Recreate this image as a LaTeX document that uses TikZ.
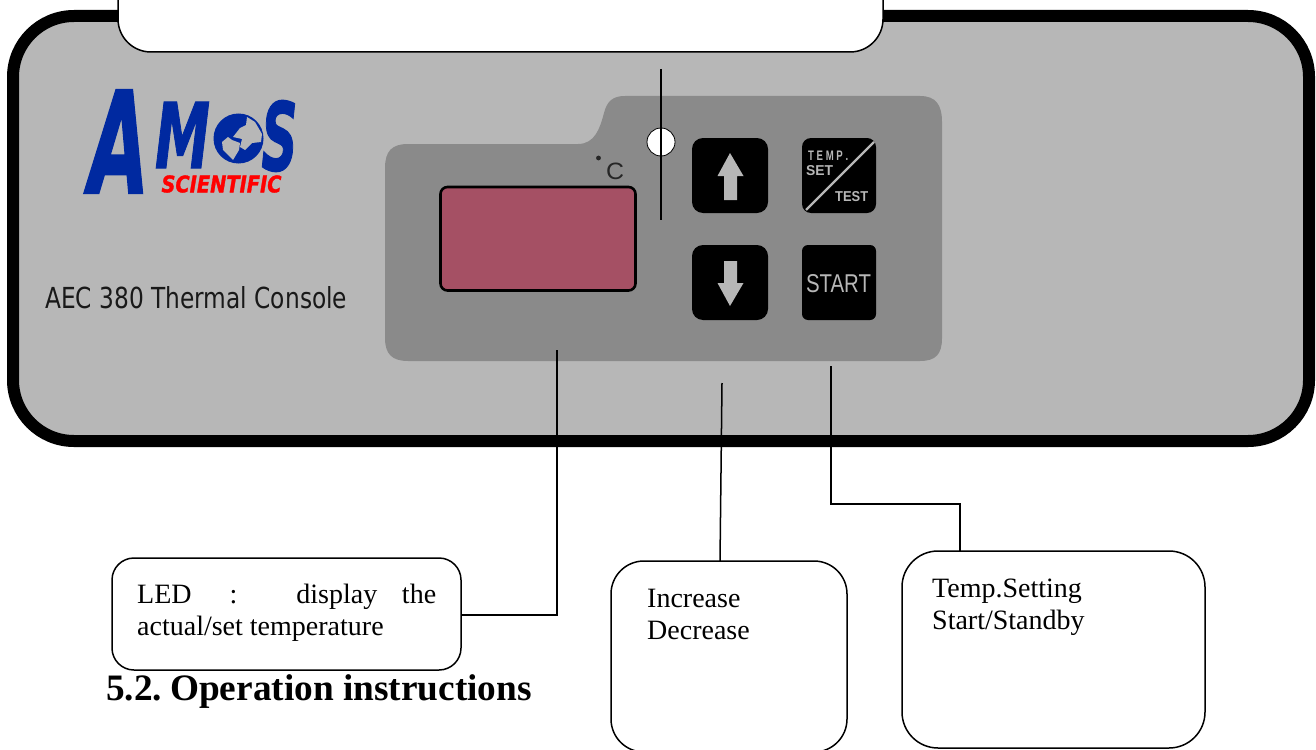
\documentclass[tikz,border=0pt]{standalone}
\usepackage{fontspec}
\setmainfont{Liberation Serif}
\newfontfamily\panelfont{DejaVu Sans}
\newfontfamily\keyfont{Liberation Sans}
\newfontfamily\logofont[BoldItalicFeatures={FakeBold=1.5}]{DejaVu Sans}
\usetikzlibrary{calc}
\definecolor{panelgray}{HTML}{B7B7B7}
\definecolor{darkgray}{HTML}{8A8A8A}
\definecolor{ledred}{HTML}{A55064}
\definecolor{logoblue}{HTML}{0029A0}
\tikzset{
  x=1pt,y=-1pt,
  callout/.style={draw=black,line width=1.5pt,fill=white},
  lead/.style={draw=black,line width=1.5pt},
  keybox/.style={fill=black,rounded corners=11pt},
  keymark/.style={fill=panelgray,draw=none},
  calltext/.style={font=\fontsize{28}{32}\selectfont,anchor=north west,inner sep=0pt,align=left},
  keytext/.style={font=\keyfont\bfseries,text=panelgray,inner sep=0pt},
  logotext/.style={text=logoblue,inner sep=0pt,font=\logofont\bfseries\itshape}
}
\begin{document}
\begin{tikzpicture}
\useasboundingbox (0,0) rectangle (1316,749);
\clip (0,0) rectangle (1316,749);
% console
\draw[line width=12pt,fill=panelgray,rounded corners=61pt] (13,16) rectangle (1309,441);
% dark panel
\fill[darkgray] (385,168) .. controls (385,151) and (392,144) .. (408,144)
  -- (578,144) .. controls (595,144) and (600,128) .. (604,113)
  .. controls (607,101) and (613,96) .. (625,96)
  -- (920,96) .. controls (936,96) and (942,105) .. (942,122)
  -- (942,338) .. controls (942,354) and (936,361) .. (920,361)
  -- (408,361) .. controls (392,361) and (385,354) .. (385,338) -- cycle;
% display
\draw[fill=ledred,line width=2.6pt,rounded corners=7pt] (440.5,187) rectangle (635.5,290.5);
\fill[black!85] (598.5,158) circle (2.4pt);
\node[font=\keyfont,text=black!85,inner sep=0pt] (unitC) at (615,171) {\resizebox{18pt}{16.5pt}{C}};
% indicator
\node[circle,draw=black,line width=0.8pt,fill=white,minimum size=28pt,inner sep=0pt] (lamp) at (661,142) {};
% keys
\fill[keybox] (692,138) rectangle (768,213);
\fill[keybox] (692,245) rectangle (768,320);
\fill[keybox,rounded corners=9pt] (802,138) rectangle (876,213);
\fill[keybox,rounded corners=6pt] (802,245) rectangle (876,320);
\fill[keymark] (730,153) -- (743.5,176) -- (737,176) -- (737,200) -- (724,200) -- (724,176) -- (717.5,176) -- cycle;
\fill[keymark] (730,306) -- (743.5,283) -- (737,283) -- (737,261) -- (724,261) -- (724,283) -- (717.5,283) -- cycle;
\draw[panelgray,line width=2.2pt] (806,210) -- (874,142);
\node[keytext,anchor=west] (temptext) at (808,156) {\resizebox{40pt}{9.5pt}{T E M P .}};
\node[keytext,anchor=west] (settext) at (806,171) {\resizebox{27pt}{10pt}{SET}};
\node[keytext,anchor=west] (testtext) at (835,197) {\resizebox{33pt}{10pt}{TEST}};
\node[font=\keyfont,text=panelgray,inner sep=0pt] (starttext) at (838.5,283.5) {\resizebox{65pt}{18pt}{START}};
% labels
\node[font=\panelfont\fontsize{23}{23}\selectfont,anchor=west,inner sep=0pt,text=black!90] (model) at (45,298)
  {\resizebox{302pt}{22pt}{AEC 380 Thermal Console}};
% logo
\node[logotext] (logoA) at (119,141.5) {\resizebox{60pt}{103pt}{A}};
\node[logotext] (logoM) at (182.5,135) {\resizebox{55pt}{66pt}{M}};
\fill[logoblue] (238.5,138.5) circle (25pt);
\fill[panelgray] (247,117) -- (255,122) -- (262,134) -- (261,142) -- (252,143) -- (245,150) -- (240,147) -- (242,139) -- (233,137) -- (240,128) -- (246,125) -- cycle;
\fill[panelgray] (222,142) -- (228,137) -- (232,140) -- (240,143) -- (239,150) -- (233,160) -- (228,155) -- (223,150) -- cycle;
\node[logotext] (logoS) at (279.5,136) {\resizebox{36pt}{70pt}{S}};
\node[inner sep=0pt,text=red,font=\logofont\bfseries\itshape] (logoSub) at (221.5,184) {\resizebox{120pt}{17pt}{SCIENTIFIC}};
% callouts
\draw[callout,rounded corners=33pt] (118,-60) rectangle (883,52);
\draw[callout,rounded corners=22pt] (112,558) rectangle (461,670);
\draw[callout,rounded corners=33pt] (611,561) rectangle (847,752);
\draw[callout,rounded corners=36pt] (902,551) rectangle (1205,748);
\coordinate (ledport) at (461,615);
\coordinate (incport) at (720,561);
\coordinate (tempport) at (960,551);
\node[calltext] (ledtext) at (137,584) {\hbox to 299pt{LED\hskip 38pt:\hskip 59pt display\hfill the}\\actual/set temperature};
\node[calltext] (inctext) at (647,589) {Increase\\Decrease};
\node[calltext] (temptxt) at (932,579) {Temp.Setting\\Start/Standby};
\node[font=\bfseries\fontsize{37.3}{37}\selectfont,anchor=west,inner sep=0pt] (heading) at (106,692) {5.2.\hspace{8pt}Operation instructions};
% connectors
\coordinate (ledend) at (557,350);
\coordinate (incend) at (722,383);
\coordinate (tempend) at (831,366);
\coordinate (tempelbow) at (960,504);
\coordinate (lampa) at (661,69);
\coordinate (lampb) at (661,220);
\draw[lead] (ledport) -- (ledport -| ledend) -- (ledend);
\draw[lead] (incport) -- (incend);
\draw[lead] (tempport) -- (tempelbow) -- (tempelbow -| tempend) -- (tempend);
\draw[lead] (lampa) -- (lampb);
\end{tikzpicture}
\end{document}
